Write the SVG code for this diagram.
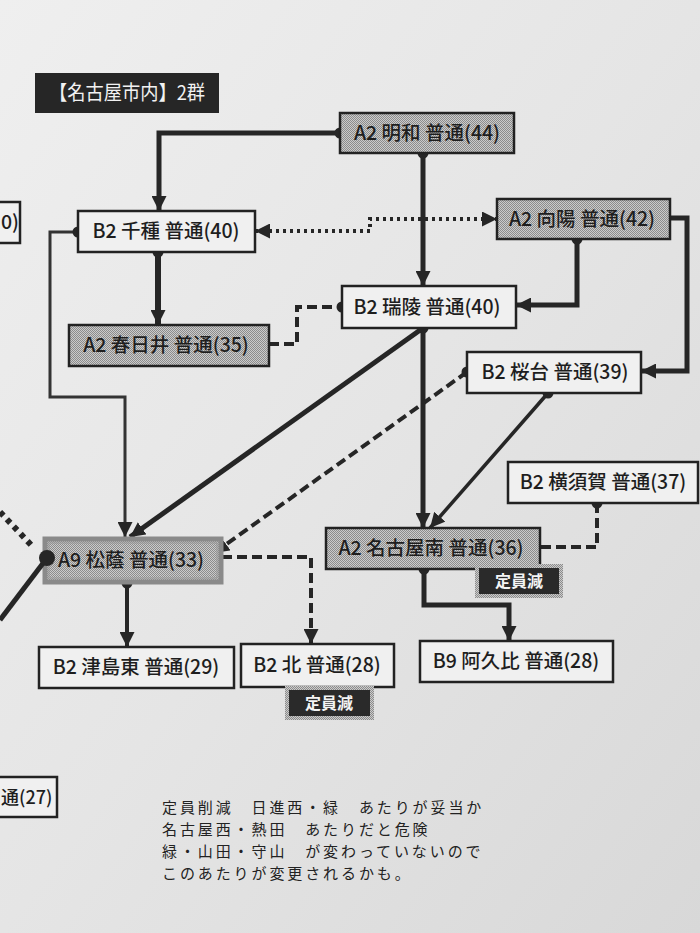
<svg xmlns="http://www.w3.org/2000/svg" width="700" height="933" viewBox="0 0 700 933">
<defs>
<linearGradient id="bg" x1="0" y1="0" x2="1" y2="1">
<stop offset="0" stop-color="#efefef"/>
<stop offset="0.5" stop-color="#e5e5e5"/>
<stop offset="1" stop-color="#d8d8d8"/>
</linearGradient>
<pattern id="hatch" width="2" height="2" patternUnits="userSpaceOnUse">
<rect width="2" height="2" fill="#cbcbcb"/>
<rect width="1" height="1" fill="#8c8c8c"/>
<rect x="1" y="1" width="1" height="1" fill="#8c8c8c"/>
</pattern>
<marker id="arr" viewBox="0 0 15 15" refX="15" refY="7.5" markerWidth="15" markerHeight="15" markerUnits="userSpaceOnUse" orient="auto">
<path d="M0,0 L15,7.5 L0,15 Z" fill="#262626"/>
</marker>
<marker id="arrs" viewBox="0 0 15 15" refX="0" refY="7.5" markerWidth="15" markerHeight="15" markerUnits="userSpaceOnUse" orient="auto">
<path d="M15,0 L0,7.5 L15,15 Z" fill="#262626"/>
</marker>
<marker id="dot" viewBox="0 0 12 12" refX="6" refY="6" markerWidth="12" markerHeight="12" markerUnits="userSpaceOnUse">
<circle cx="6" cy="6" r="5.5" fill="#262626"/>
</marker>
</defs>
<style>
.box{fill:#f0f0f0;stroke:#222;stroke-width:2.5}
.gbox{fill:url(#hatch);stroke:#222;stroke-width:2.5}
.lbl{font-family:"Noto Sans CJK JP","Noto Sans",sans-serif;font-size:19.5px;font-weight:500;fill:#1e1e1e;text-anchor:middle}
.badge{fill:#2a2a2a;stroke:url(#hatch);stroke-width:4}
.btxt{font-family:"Noto Sans CJK JP",sans-serif;font-size:16px;font-weight:bold;fill:#f4f4f4;text-anchor:middle}
.e{fill:none;stroke:#262626;stroke-linejoin:miter}
.thick{stroke-width:5}
.dash{stroke-width:4;stroke-dasharray:10 5}
.dotl{stroke-width:4;stroke-dasharray:3 4}
.note{font-family:"Noto Sans CJK JP",sans-serif;font-size:15px;letter-spacing:2.9px;fill:#222}
</style>
<rect width="700" height="933" fill="url(#bg)"/>

<g id="connectors">
<path class="e thick" d="M340,133 H159 V211" marker-start="url(#dot)" marker-end="url(#arr)"/>
<path class="e thick" d="M423,153 V286" marker-start="url(#dot)" marker-end="url(#arr)"/>
<path class="e thick" d="M158,252 V325" marker-start="url(#dot)" marker-end="url(#arr)" style="stroke-width:6"/>
<path class="e" d="M78,232 H50 V397 H125 V537" style="stroke-width:3;stroke:#333" marker-start="url(#dot)" marker-end="url(#arr)"/>
<path class="e dotl" d="M255,231 H370 V219 H497" marker-start="url(#arrs)" marker-end="url(#arr)"/>
<path class="e thick" d="M577,239 V305 H516" marker-start="url(#dot)" marker-end="url(#arr)"/>
<path class="e thick" d="M658,218 H687 V371 H641" marker-start="url(#dot)" marker-end="url(#arr)"/>
<path class="e dash" d="M269,344 H297 V307 H342" marker-end="url(#dot)"/>
<path class="e thick" d="M423,328 V528" marker-start="url(#dot)" marker-end="url(#arr)"/>
<path class="e thick" d="M423,328 L130,537" marker-end="url(#arr)"/>
<path class="e dash" d="M467,372 L214,553" marker-start="url(#dot)" marker-end="url(#arr)"/>
<path class="e" d="M548,393 L430,528" style="stroke-width:3.5" marker-start="url(#dot)" marker-end="url(#arr)"/>
<path class="e dash" d="M597,503 V547 H540" marker-start="url(#dot)"/>
<path class="e thick" d="M424,569 V605 H509 V641" marker-start="url(#dot)" marker-end="url(#arr)"/>
<path class="e dash" d="M207,557 H311 V644" marker-start="url(#dot)" marker-end="url(#arr)"/>
<path class="e" d="M127,583 V647" style="stroke-width:4" marker-start="url(#dot)" marker-end="url(#arr)"/>
</g>

<g id="title">
<rect x="35" y="73" width="184" height="40" fill="#262626"/>
<text x="127" y="100" font-family="'Noto Sans CJK JP',sans-serif" font-size="20" fill="#f2f2f2" text-anchor="middle" textLength="156" lengthAdjust="spacingAndGlyphs">【名古屋市内】2群</text>
</g>

<g id="n-meiwa"><rect class="gbox" x="340" y="113" width="174" height="40"/><text class="lbl" x="427" y="140">A2 明和 普通(44)</text></g>
<g id="n-chikusa"><rect class="box" x="78" y="211" width="177" height="41"/><text class="lbl" x="166" y="238">B2 千種 普通(40)</text></g>
<g id="n-koyo"><rect class="gbox" x="497" y="199" width="173" height="40"/><text class="lbl" x="582" y="226">A2 向陽 普通(42)</text></g>
<g id="n-zuiryo"><rect class="box" x="342" y="286" width="174" height="42"/><text class="lbl" x="427" y="314">B2 瑞陵 普通(40)</text></g>
<g id="n-kasugai"><rect class="gbox" x="69" y="325" width="200" height="41"/><text class="lbl" x="166" y="352">A2 春日井 普通(35)</text></g>
<g id="n-sakuradai"><rect class="box" x="467" y="352" width="174" height="41"/><text class="lbl" x="555" y="379">B2 桜台 普通(39)</text></g>
<g id="n-yokosuka"><rect class="box" x="508" y="462" width="190" height="41"/><text class="lbl" x="603" y="489">B2 横須賀 普通(37)</text></g>
<g id="n-nagoyaminami"><rect class="gbox" x="326" y="528" width="214" height="41"/><text class="lbl" x="431" y="555">A2 名古屋南 普通(36)</text></g>
<g id="b-minami"><rect class="badge" x="477" y="566" width="84" height="30"/><text class="btxt" x="519" y="587">定員減</text></g>
<g id="n-shoin"><rect x="45" y="539" width="176" height="43" fill="url(#hatch)" stroke="#8a8a8a" stroke-width="5"/><rect x="49" y="543" width="168" height="35" fill="none" stroke="#9a9a9a" stroke-width="1"/><text class="lbl" x="131" y="567">A9 松蔭 普通(33)</text></g>
<g id="n-tsushimahigashi"><rect class="box" x="39" y="647" width="195" height="41"/><text class="lbl" x="136" y="674">B2 津島東 普通(29)</text></g>
<g id="n-kita"><rect class="box" x="241" y="644" width="153" height="43"/><text class="lbl" x="317" y="672">B2 北 普通(28)</text></g>
<g id="b-kita"><rect class="badge" x="287" y="688" width="85" height="30"/><text class="btxt" x="329" y="709">定員減</text></g>
<g id="n-agui"><rect class="box" x="420" y="641" width="193" height="41"/><text class="lbl" x="516" y="668">B9 阿久比 普通(28)</text></g>
<g id="n-left-top"><rect class="box" x="-20" y="202" width="40" height="41"/><text class="lbl" x="1" y="229" style="text-anchor:start">0)</text></g>
<g id="n-left-bottom"><rect class="box" x="-20" y="777" width="77" height="40"/><text class="lbl" x="1" y="804" style="text-anchor:start;font-size:18px">通(27)</text></g>

<g id="connectors-left">
<path class="e" d="M0,512 L34,548" style="stroke-width:6;stroke-dasharray:5 5"/>
<path class="e thick" d="M47,558 L0,620"/>
<circle cx="47" cy="558" r="8" fill="#262626"/>
</g>

<g id="note">
<text class="note" x="162" y="813">定員削減　日進西・緑　あたりが妥当か</text>
<text class="note" x="162" y="835">名古屋西・熱田　あたりだと危険</text>
<text class="note" x="162" y="857">緑・山田・守山　が変わっていないので</text>
<text class="note" x="162" y="879">このあたりが変更されるかも。</text>
</g>
</svg>
